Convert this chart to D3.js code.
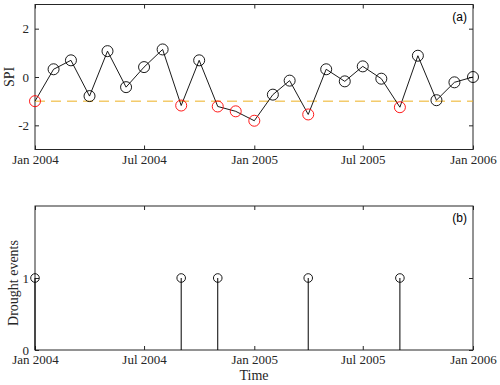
<!DOCTYPE html>
<html>
<head>
<meta charset="utf-8">
<script src="https://cdn.jsdelivr.net/npm/d3@7"></script>
<style>
  body { margin: 0; background: #fff; }
  svg text { font-family: "Liberation Serif", "DejaVu Serif", serif; fill: #262626; }
</style>
</head>
<body>
<div id="chart"></div>
<script>
// monthly SPI values, Jan 2004 .. Jan 2006
var months = d3.timeMonths(new Date(2004, 0, 1), new Date(2006, 0, 2));
var spi = [-1.0, 0.32, 0.69, -0.79, 1.07, -0.42, 0.41, 1.14, -1.18, 0.69, -1.22, -1.42,
           -1.81, -0.73, -0.15, -1.55, 0.32, -0.18, 0.44, -0.07, -1.25, 0.88, -0.96, -0.22, 0.0];
var threshold = -1;
// drought onsets (month index)
var eventMonths = [0, 8, 10, 15, 20];
var eventValues = [1, 1, 1, 1, 1];
var xTicks = [new Date(2004,0,1), new Date(2004,6,1), new Date(2005,0,1), new Date(2005,6,1), new Date(2006,0,1)];
var yTicksA = [-2, 0, 2];
var yTicksB = [0, 1];

var W = 500, H = 385;
var left = 35, right = 473;
var svg = d3.select("#chart").append("svg").attr("width", W).attr("height", H);

var x = d3.scaleTime().domain([xTicks[0], xTicks[4]]).range([left, right]);
var fmt = d3.timeFormat("%b %Y");
var axisCol = "#262626";
var serif = "'Liberation Serif', 'DejaVu Serif', serif";

function styleAxis(a) {
  a.select(".domain").remove();
  a.selectAll("line").attr("stroke", axisCol);
  a.selectAll("text").style("font-size", "13px").style("font-family", serif).style("fill", axisCol);
}

function panel(top, bottom, y, yTicks, label) {
  var g = svg.append("g");
  // inward ticks on all four sides
  g.append("g").attr("transform", "translate(0," + bottom + ")")
    .call(d3.axisBottom(x).tickValues(xTicks).tickFormat(fmt).tickSizeInner(-4).tickSizeOuter(0).tickPadding(5))
    .call(styleAxis);
  g.append("g").attr("transform", "translate(0," + top + ")")
    .call(d3.axisTop(x).tickValues(xTicks).tickFormat("").tickSizeInner(-4).tickSizeOuter(0))
    .call(styleAxis);
  g.append("g").attr("transform", "translate(" + left + ",0)")
    .call(d3.axisLeft(y).tickValues(yTicks).tickFormat(function(d) { return String(d); }).tickSizeInner(-4).tickSizeOuter(0).tickPadding(6))
    .call(styleAxis);
  g.append("g").attr("transform", "translate(" + right + ",0)")
    .call(d3.axisRight(y).tickValues(yTicks).tickFormat("").tickSizeInner(-4).tickSizeOuter(0))
    .call(styleAxis);
  g.append("rect").attr("x", left).attr("y", top).attr("width", right - left).attr("height", bottom - top)
    .attr("fill", "none").attr("stroke", axisCol).attr("stroke-width", 1);
  g.append("text").attr("x", right - 6).attr("y", top + 16).attr("text-anchor", "end")
    .style("font-family", "'Liberation Sans', Arial, sans-serif").style("font-size", "12px").style("fill", "#000").text(label);
  return g;
}

// panel (a)
var yA = d3.scaleLinear().domain([-3, 3]).range([149.5, 4.5]);
panel(4.5, 149.5, yA, yTicksA, "(a)");

svg.append("line").attr("x1", left).attr("x2", right).attr("y1", yA(threshold)).attr("y2", yA(threshold))
  .attr("stroke", "#EDB120").attr("stroke-width", 1).attr("stroke-dasharray", "10,6");

svg.append("path").datum(spi)
  .attr("d", d3.line().x(function(d, i) { return x(months[i]); }).y(function(d) { return yA(d); }))
  .attr("fill", "none").attr("stroke", "#000").attr("stroke-width", 0.9);

svg.selectAll(".pt").data(spi).enter().append("circle")
  .attr("cx", function(d, i) { return x(months[i]); })
  .attr("cy", function(d) { return yA(d); })
  .attr("r", 5.5).attr("fill", "none")
  .attr("stroke", function(d) { return d <= threshold ? "#ff0000" : "#000"; })
  .attr("stroke-width", 0.9);

svg.append("text").attr("transform", "translate(14," + yA(0) + ") rotate(-90)")
  .attr("text-anchor", "middle").style("font-size", "14px").text("SPI");

// panel (b)
var yB = d3.scaleLinear().domain([0, 2]).range([350, 206]);
panel(206, 350, yB, yTicksB, "(b)");

var stems = svg.selectAll(".stem").data(eventMonths).enter().append("g");
stems.append("line")
  .attr("x1", function(d) { return x(months[d]); }).attr("x2", function(d) { return x(months[d]); })
  .attr("y1", yB(0)).attr("y2", function(d, i) { return yB(eventValues[i]); })
  .attr("stroke", "#000").attr("stroke-width", 1);
stems.append("circle")
  .attr("cx", function(d) { return x(months[d]); })
  .attr("cy", function(d, i) { return yB(eventValues[i]); })
  .attr("r", 4.3).attr("fill", "none").attr("stroke", "#000").attr("stroke-width", 0.9);

svg.append("text").attr("transform", "translate(18," + 283 + ") rotate(-90)")
  .attr("text-anchor", "middle").style("font-size", "14px").text("Drought events");

svg.append("text").attr("x", (left + right) / 2).attr("y", 380)
  .attr("text-anchor", "middle").style("font-size", "14px").text("Time");
</script>
</body>
</html>
